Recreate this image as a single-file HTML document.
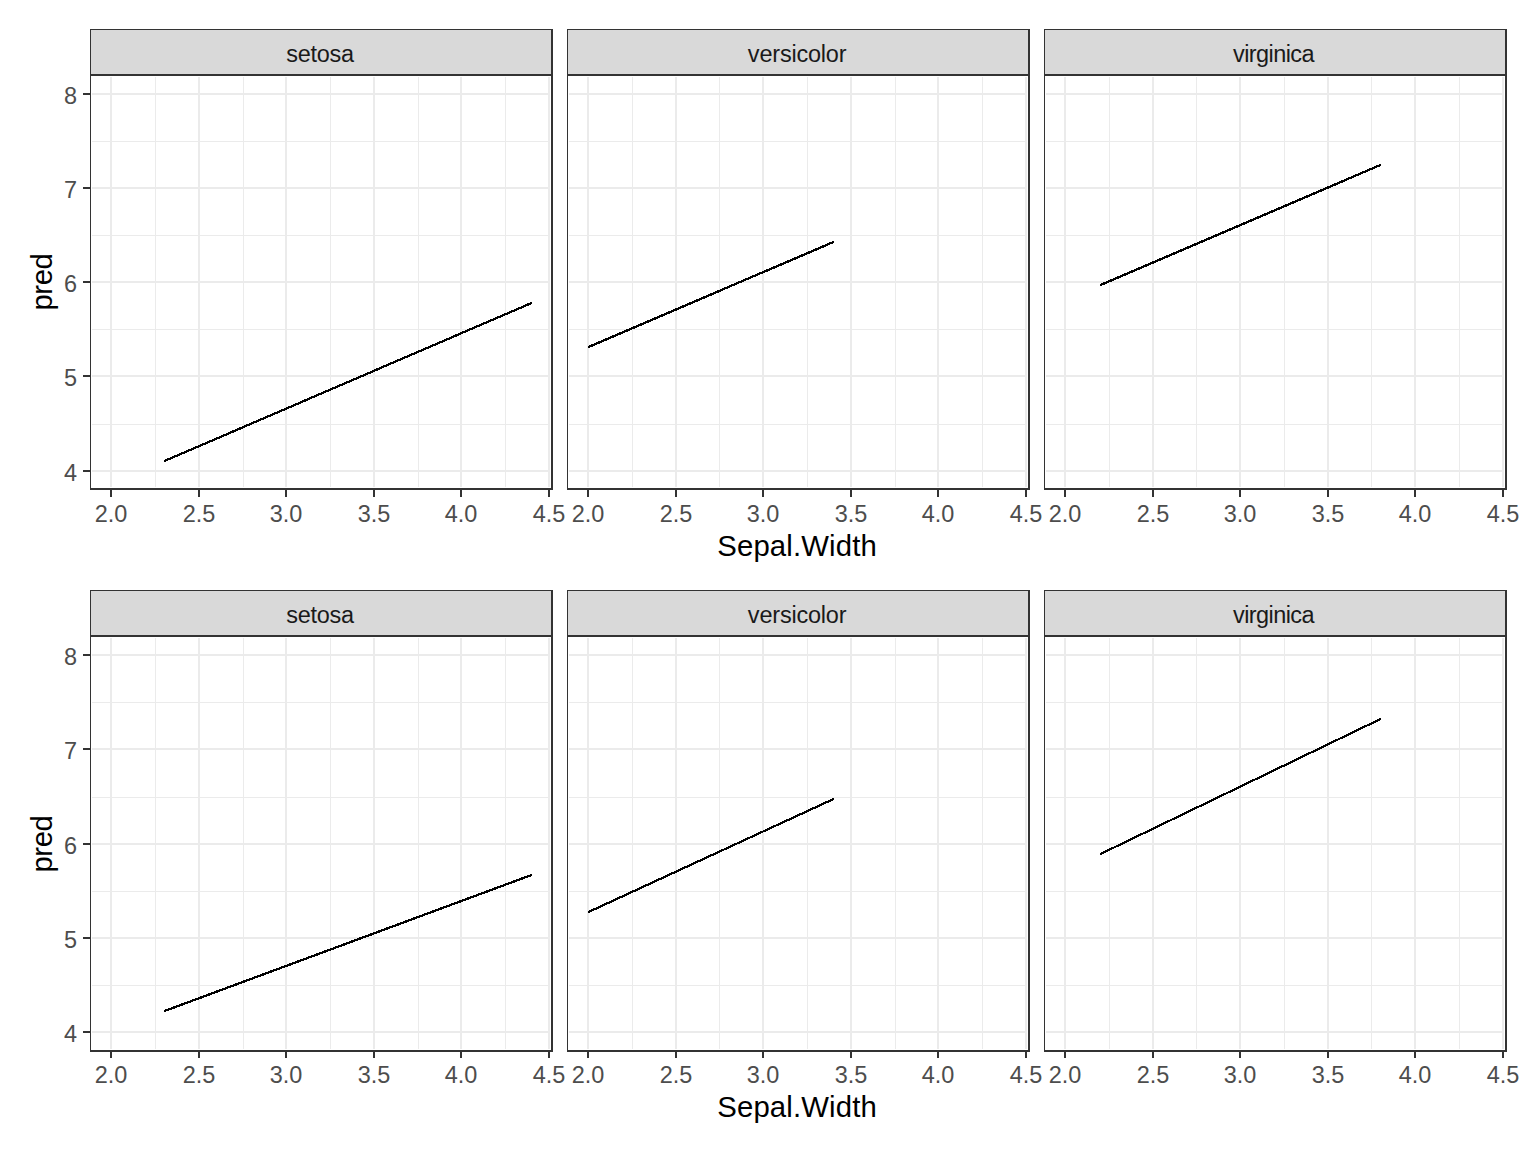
<!DOCTYPE html>
<html><head><meta charset="utf-8"><title>pred vs Sepal.Width</title>
<style>
html,body{margin:0;padding:0;background:#fff;}
body{width:1536px;height:1152px;overflow:hidden;}
svg{display:block;font-family:"Liberation Sans",sans-serif;}
</style></head><body>
<svg width="1536" height="1152" viewBox="0 0 1536 1152">
<rect x="0" y="0" width="1536" height="1152" fill="#fff"/>
<g shape-rendering="crispEdges">
<rect x="90" y="29" width="463" height="47" fill="#D9D9D9"/>
<rect x="92" y="31" width="458" height="42" fill="#D9D9D9"/>
<rect x="155" y="77" width="1" height="410" fill="#EBEBEB"/>
<rect x="243" y="77" width="1" height="410" fill="#EBEBEB"/>
<rect x="330" y="77" width="1" height="410" fill="#EBEBEB"/>
<rect x="418" y="77" width="1" height="410" fill="#EBEBEB"/>
<rect x="505" y="77" width="1" height="410" fill="#EBEBEB"/>
<rect x="92" y="141" width="458" height="1" fill="#EBEBEB"/>
<rect x="92" y="235" width="458" height="1" fill="#EBEBEB"/>
<rect x="92" y="329" width="458" height="1" fill="#EBEBEB"/>
<rect x="92" y="424" width="458" height="1" fill="#EBEBEB"/>
<rect x="110" y="77" width="2" height="410" fill="#EBEBEB"/>
<rect x="198" y="77" width="2" height="410" fill="#EBEBEB"/>
<rect x="285" y="77" width="2" height="410" fill="#EBEBEB"/>
<rect x="373" y="77" width="2" height="410" fill="#EBEBEB"/>
<rect x="460" y="77" width="2" height="410" fill="#EBEBEB"/>
<rect x="548" y="77" width="2" height="410" fill="#EBEBEB"/>
<rect x="92" y="93" width="458" height="2" fill="#EBEBEB"/>
<rect x="92" y="187" width="458" height="2" fill="#EBEBEB"/>
<rect x="92" y="281" width="458" height="2" fill="#EBEBEB"/>
<rect x="92" y="375" width="458" height="2" fill="#EBEBEB"/>
<rect x="92" y="470" width="458" height="2" fill="#EBEBEB"/>
<rect x="90" y="29" width="463" height="1" fill="#333333"/>
<rect x="90" y="29" width="1" height="461" fill="#333333"/>
<rect x="551" y="29" width="2" height="461" fill="#333333"/>
<rect x="90" y="74" width="463" height="2" fill="#333333"/>
<rect x="90" y="488" width="463" height="2" fill="#333333"/>
<rect x="110" y="490" width="2" height="7" fill="#333333"/>
<rect x="198" y="490" width="2" height="7" fill="#333333"/>
<rect x="285" y="490" width="2" height="7" fill="#333333"/>
<rect x="373" y="490" width="2" height="7" fill="#333333"/>
<rect x="460" y="490" width="2" height="7" fill="#333333"/>
<rect x="548" y="490" width="2" height="7" fill="#333333"/>
<path fill="#000" shape-rendering="crispEdges" d="M164 459.990L532 301.560L532 304.010L164 462.440Z"/>
<text x="320.1" y="62" font-size="23.47" fill="#1A1A1A" text-anchor="middle" textLength="67.86" lengthAdjust="spacing">setosa</text>
<text x="111" y="522" font-size="23.47" fill="#4D4D4D" text-anchor="middle">2.0</text>
<text x="199" y="522" font-size="23.47" fill="#4D4D4D" text-anchor="middle">2.5</text>
<text x="286" y="522" font-size="23.47" fill="#4D4D4D" text-anchor="middle">3.0</text>
<text x="374" y="522" font-size="23.47" fill="#4D4D4D" text-anchor="middle">3.5</text>
<text x="461" y="522" font-size="23.47" fill="#4D4D4D" text-anchor="middle">4.0</text>
<text x="549" y="522" font-size="23.47" fill="#4D4D4D" text-anchor="middle">4.5</text>
<rect x="567" y="29" width="463" height="47" fill="#D9D9D9"/>
<rect x="569" y="31" width="458" height="42" fill="#D9D9D9"/>
<rect x="632" y="77" width="1" height="410" fill="#EBEBEB"/>
<rect x="719" y="77" width="1" height="410" fill="#EBEBEB"/>
<rect x="807" y="77" width="1" height="410" fill="#EBEBEB"/>
<rect x="895" y="77" width="1" height="410" fill="#EBEBEB"/>
<rect x="982" y="77" width="1" height="410" fill="#EBEBEB"/>
<rect x="569" y="141" width="458" height="1" fill="#EBEBEB"/>
<rect x="569" y="235" width="458" height="1" fill="#EBEBEB"/>
<rect x="569" y="329" width="458" height="1" fill="#EBEBEB"/>
<rect x="569" y="424" width="458" height="1" fill="#EBEBEB"/>
<rect x="587" y="77" width="2" height="410" fill="#EBEBEB"/>
<rect x="675" y="77" width="2" height="410" fill="#EBEBEB"/>
<rect x="762" y="77" width="2" height="410" fill="#EBEBEB"/>
<rect x="850" y="77" width="2" height="410" fill="#EBEBEB"/>
<rect x="937" y="77" width="2" height="410" fill="#EBEBEB"/>
<rect x="1025" y="77" width="2" height="410" fill="#EBEBEB"/>
<rect x="569" y="93" width="458" height="2" fill="#EBEBEB"/>
<rect x="569" y="187" width="458" height="2" fill="#EBEBEB"/>
<rect x="569" y="281" width="458" height="2" fill="#EBEBEB"/>
<rect x="569" y="375" width="458" height="2" fill="#EBEBEB"/>
<rect x="569" y="470" width="458" height="2" fill="#EBEBEB"/>
<rect x="567" y="29" width="463" height="1" fill="#333333"/>
<rect x="567" y="29" width="1" height="461" fill="#333333"/>
<rect x="1028" y="29" width="2" height="461" fill="#333333"/>
<rect x="567" y="74" width="463" height="2" fill="#333333"/>
<rect x="567" y="488" width="463" height="2" fill="#333333"/>
<rect x="587" y="490" width="2" height="7" fill="#333333"/>
<rect x="675" y="490" width="2" height="7" fill="#333333"/>
<rect x="762" y="490" width="2" height="7" fill="#333333"/>
<rect x="850" y="490" width="2" height="7" fill="#333333"/>
<rect x="937" y="490" width="2" height="7" fill="#333333"/>
<rect x="1025" y="490" width="2" height="7" fill="#333333"/>
<path fill="#000" shape-rendering="crispEdges" d="M588 345.989L834 240.561L834 243.011L588 348.439Z"/>
<text x="797.2" y="62" font-size="23.47" fill="#1A1A1A" text-anchor="middle" textLength="98.7" lengthAdjust="spacing">versicolor</text>
<text x="588" y="522" font-size="23.47" fill="#4D4D4D" text-anchor="middle">2.0</text>
<text x="676" y="522" font-size="23.47" fill="#4D4D4D" text-anchor="middle">2.5</text>
<text x="763" y="522" font-size="23.47" fill="#4D4D4D" text-anchor="middle">3.0</text>
<text x="851" y="522" font-size="23.47" fill="#4D4D4D" text-anchor="middle">3.5</text>
<text x="938" y="522" font-size="23.47" fill="#4D4D4D" text-anchor="middle">4.0</text>
<text x="1026" y="522" font-size="23.47" fill="#4D4D4D" text-anchor="middle">4.5</text>
<rect x="1044" y="29" width="463" height="47" fill="#D9D9D9"/>
<rect x="1046" y="31" width="458" height="42" fill="#D9D9D9"/>
<rect x="1109" y="77" width="1" height="410" fill="#EBEBEB"/>
<rect x="1196" y="77" width="1" height="410" fill="#EBEBEB"/>
<rect x="1284" y="77" width="1" height="410" fill="#EBEBEB"/>
<rect x="1371" y="77" width="1" height="410" fill="#EBEBEB"/>
<rect x="1459" y="77" width="1" height="410" fill="#EBEBEB"/>
<rect x="1046" y="141" width="458" height="1" fill="#EBEBEB"/>
<rect x="1046" y="235" width="458" height="1" fill="#EBEBEB"/>
<rect x="1046" y="329" width="458" height="1" fill="#EBEBEB"/>
<rect x="1046" y="424" width="458" height="1" fill="#EBEBEB"/>
<rect x="1064" y="77" width="2" height="410" fill="#EBEBEB"/>
<rect x="1152" y="77" width="2" height="410" fill="#EBEBEB"/>
<rect x="1239" y="77" width="2" height="410" fill="#EBEBEB"/>
<rect x="1327" y="77" width="2" height="410" fill="#EBEBEB"/>
<rect x="1414" y="77" width="2" height="410" fill="#EBEBEB"/>
<rect x="1502" y="77" width="2" height="410" fill="#EBEBEB"/>
<rect x="1046" y="93" width="458" height="2" fill="#EBEBEB"/>
<rect x="1046" y="187" width="458" height="2" fill="#EBEBEB"/>
<rect x="1046" y="281" width="458" height="2" fill="#EBEBEB"/>
<rect x="1046" y="375" width="458" height="2" fill="#EBEBEB"/>
<rect x="1046" y="470" width="458" height="2" fill="#EBEBEB"/>
<rect x="1044" y="29" width="463" height="1" fill="#333333"/>
<rect x="1044" y="29" width="1" height="461" fill="#333333"/>
<rect x="1505" y="29" width="2" height="461" fill="#333333"/>
<rect x="1044" y="74" width="463" height="2" fill="#333333"/>
<rect x="1044" y="488" width="463" height="2" fill="#333333"/>
<rect x="1064" y="490" width="2" height="7" fill="#333333"/>
<rect x="1152" y="490" width="2" height="7" fill="#333333"/>
<rect x="1239" y="490" width="2" height="7" fill="#333333"/>
<rect x="1327" y="490" width="2" height="7" fill="#333333"/>
<rect x="1414" y="490" width="2" height="7" fill="#333333"/>
<rect x="1502" y="490" width="2" height="7" fill="#333333"/>
<path fill="#000" shape-rendering="crispEdges" d="M1100 283.989L1381 163.561L1381 166.011L1100 286.439Z"/>
<text x="1273.75" y="62" font-size="23.47" fill="#1A1A1A" text-anchor="middle" textLength="81.5" lengthAdjust="spacing">virginica</text>
<text x="1065" y="522" font-size="23.47" fill="#4D4D4D" text-anchor="middle">2.0</text>
<text x="1153" y="522" font-size="23.47" fill="#4D4D4D" text-anchor="middle">2.5</text>
<text x="1240" y="522" font-size="23.47" fill="#4D4D4D" text-anchor="middle">3.0</text>
<text x="1328" y="522" font-size="23.47" fill="#4D4D4D" text-anchor="middle">3.5</text>
<text x="1415" y="522" font-size="23.47" fill="#4D4D4D" text-anchor="middle">4.0</text>
<text x="1503" y="522" font-size="23.47" fill="#4D4D4D" text-anchor="middle">4.5</text>
<rect x="83" y="93" width="7" height="2" fill="#333333"/>
<text x="77" y="104" font-size="23.47" fill="#4D4D4D" text-anchor="end">8</text>
<rect x="83" y="187" width="7" height="2" fill="#333333"/>
<text x="77" y="198" font-size="23.47" fill="#4D4D4D" text-anchor="end">7</text>
<rect x="83" y="281" width="7" height="2" fill="#333333"/>
<text x="77" y="292" font-size="23.47" fill="#4D4D4D" text-anchor="end">6</text>
<rect x="83" y="375" width="7" height="2" fill="#333333"/>
<text x="77" y="386" font-size="23.47" fill="#4D4D4D" text-anchor="end">5</text>
<rect x="83" y="470" width="7" height="2" fill="#333333"/>
<text x="77" y="481" font-size="23.47" fill="#4D4D4D" text-anchor="end">4</text>
<text x="797.0" y="556" font-size="29.33" fill="#000" text-anchor="middle" textLength="159.5" lengthAdjust="spacing">Sepal.Width</text>
<text transform="translate(52,281.85) rotate(-90)" x="0" y="0" font-size="29.33" fill="#000" text-anchor="middle" textLength="57.2" lengthAdjust="spacing">pred</text>
<rect x="90" y="590" width="463" height="47" fill="#D9D9D9"/>
<rect x="92" y="592" width="458" height="42" fill="#D9D9D9"/>
<rect x="155" y="638" width="1" height="411" fill="#EBEBEB"/>
<rect x="243" y="638" width="1" height="411" fill="#EBEBEB"/>
<rect x="330" y="638" width="1" height="411" fill="#EBEBEB"/>
<rect x="418" y="638" width="1" height="411" fill="#EBEBEB"/>
<rect x="505" y="638" width="1" height="411" fill="#EBEBEB"/>
<rect x="92" y="702" width="458" height="1" fill="#EBEBEB"/>
<rect x="92" y="797" width="458" height="1" fill="#EBEBEB"/>
<rect x="92" y="891" width="458" height="1" fill="#EBEBEB"/>
<rect x="92" y="985" width="458" height="1" fill="#EBEBEB"/>
<rect x="110" y="638" width="2" height="411" fill="#EBEBEB"/>
<rect x="198" y="638" width="2" height="411" fill="#EBEBEB"/>
<rect x="285" y="638" width="2" height="411" fill="#EBEBEB"/>
<rect x="373" y="638" width="2" height="411" fill="#EBEBEB"/>
<rect x="460" y="638" width="2" height="411" fill="#EBEBEB"/>
<rect x="548" y="638" width="2" height="411" fill="#EBEBEB"/>
<rect x="92" y="654" width="458" height="2" fill="#EBEBEB"/>
<rect x="92" y="748" width="458" height="2" fill="#EBEBEB"/>
<rect x="92" y="843" width="458" height="2" fill="#EBEBEB"/>
<rect x="92" y="937" width="458" height="2" fill="#EBEBEB"/>
<rect x="92" y="1031" width="458" height="2" fill="#EBEBEB"/>
<rect x="90" y="590" width="463" height="1" fill="#333333"/>
<rect x="90" y="590" width="1" height="462" fill="#333333"/>
<rect x="551" y="590" width="2" height="462" fill="#333333"/>
<rect x="90" y="635" width="463" height="2" fill="#333333"/>
<rect x="90" y="1050" width="463" height="2" fill="#333333"/>
<rect x="110" y="1051" width="2" height="7" fill="#333333"/>
<rect x="198" y="1051" width="2" height="7" fill="#333333"/>
<rect x="285" y="1051" width="2" height="7" fill="#333333"/>
<rect x="373" y="1051" width="2" height="7" fill="#333333"/>
<rect x="460" y="1051" width="2" height="7" fill="#333333"/>
<rect x="548" y="1051" width="2" height="7" fill="#333333"/>
<path fill="#000" shape-rendering="crispEdges" d="M164 1009.960L532 873.590L532 876.040L164 1012.410Z"/>
<text x="320.1" y="623" font-size="23.47" fill="#1A1A1A" text-anchor="middle" textLength="67.86" lengthAdjust="spacing">setosa</text>
<text x="111" y="1083" font-size="23.47" fill="#4D4D4D" text-anchor="middle">2.0</text>
<text x="199" y="1083" font-size="23.47" fill="#4D4D4D" text-anchor="middle">2.5</text>
<text x="286" y="1083" font-size="23.47" fill="#4D4D4D" text-anchor="middle">3.0</text>
<text x="374" y="1083" font-size="23.47" fill="#4D4D4D" text-anchor="middle">3.5</text>
<text x="461" y="1083" font-size="23.47" fill="#4D4D4D" text-anchor="middle">4.0</text>
<text x="549" y="1083" font-size="23.47" fill="#4D4D4D" text-anchor="middle">4.5</text>
<rect x="567" y="590" width="463" height="47" fill="#D9D9D9"/>
<rect x="569" y="592" width="458" height="42" fill="#D9D9D9"/>
<rect x="632" y="638" width="1" height="411" fill="#EBEBEB"/>
<rect x="719" y="638" width="1" height="411" fill="#EBEBEB"/>
<rect x="807" y="638" width="1" height="411" fill="#EBEBEB"/>
<rect x="895" y="638" width="1" height="411" fill="#EBEBEB"/>
<rect x="982" y="638" width="1" height="411" fill="#EBEBEB"/>
<rect x="569" y="702" width="458" height="1" fill="#EBEBEB"/>
<rect x="569" y="797" width="458" height="1" fill="#EBEBEB"/>
<rect x="569" y="891" width="458" height="1" fill="#EBEBEB"/>
<rect x="569" y="985" width="458" height="1" fill="#EBEBEB"/>
<rect x="587" y="638" width="2" height="411" fill="#EBEBEB"/>
<rect x="675" y="638" width="2" height="411" fill="#EBEBEB"/>
<rect x="762" y="638" width="2" height="411" fill="#EBEBEB"/>
<rect x="850" y="638" width="2" height="411" fill="#EBEBEB"/>
<rect x="937" y="638" width="2" height="411" fill="#EBEBEB"/>
<rect x="1025" y="638" width="2" height="411" fill="#EBEBEB"/>
<rect x="569" y="654" width="458" height="2" fill="#EBEBEB"/>
<rect x="569" y="748" width="458" height="2" fill="#EBEBEB"/>
<rect x="569" y="843" width="458" height="2" fill="#EBEBEB"/>
<rect x="569" y="937" width="458" height="2" fill="#EBEBEB"/>
<rect x="569" y="1031" width="458" height="2" fill="#EBEBEB"/>
<rect x="567" y="590" width="463" height="1" fill="#333333"/>
<rect x="567" y="590" width="1" height="462" fill="#333333"/>
<rect x="1028" y="590" width="2" height="462" fill="#333333"/>
<rect x="567" y="635" width="463" height="2" fill="#333333"/>
<rect x="567" y="1050" width="463" height="2" fill="#333333"/>
<rect x="587" y="1051" width="2" height="7" fill="#333333"/>
<rect x="675" y="1051" width="2" height="7" fill="#333333"/>
<rect x="762" y="1051" width="2" height="7" fill="#333333"/>
<rect x="850" y="1051" width="2" height="7" fill="#333333"/>
<rect x="937" y="1051" width="2" height="7" fill="#333333"/>
<rect x="1025" y="1051" width="2" height="7" fill="#333333"/>
<path fill="#000" shape-rendering="crispEdges" d="M588 911.006L834 797.544L834 799.994L588 913.456Z"/>
<text x="797.2" y="623" font-size="23.47" fill="#1A1A1A" text-anchor="middle" textLength="98.7" lengthAdjust="spacing">versicolor</text>
<text x="588" y="1083" font-size="23.47" fill="#4D4D4D" text-anchor="middle">2.0</text>
<text x="676" y="1083" font-size="23.47" fill="#4D4D4D" text-anchor="middle">2.5</text>
<text x="763" y="1083" font-size="23.47" fill="#4D4D4D" text-anchor="middle">3.0</text>
<text x="851" y="1083" font-size="23.47" fill="#4D4D4D" text-anchor="middle">3.5</text>
<text x="938" y="1083" font-size="23.47" fill="#4D4D4D" text-anchor="middle">4.0</text>
<text x="1026" y="1083" font-size="23.47" fill="#4D4D4D" text-anchor="middle">4.5</text>
<rect x="1044" y="590" width="463" height="47" fill="#D9D9D9"/>
<rect x="1046" y="592" width="458" height="42" fill="#D9D9D9"/>
<rect x="1109" y="638" width="1" height="411" fill="#EBEBEB"/>
<rect x="1196" y="638" width="1" height="411" fill="#EBEBEB"/>
<rect x="1284" y="638" width="1" height="411" fill="#EBEBEB"/>
<rect x="1371" y="638" width="1" height="411" fill="#EBEBEB"/>
<rect x="1459" y="638" width="1" height="411" fill="#EBEBEB"/>
<rect x="1046" y="702" width="458" height="1" fill="#EBEBEB"/>
<rect x="1046" y="797" width="458" height="1" fill="#EBEBEB"/>
<rect x="1046" y="891" width="458" height="1" fill="#EBEBEB"/>
<rect x="1046" y="985" width="458" height="1" fill="#EBEBEB"/>
<rect x="1064" y="638" width="2" height="411" fill="#EBEBEB"/>
<rect x="1152" y="638" width="2" height="411" fill="#EBEBEB"/>
<rect x="1239" y="638" width="2" height="411" fill="#EBEBEB"/>
<rect x="1327" y="638" width="2" height="411" fill="#EBEBEB"/>
<rect x="1414" y="638" width="2" height="411" fill="#EBEBEB"/>
<rect x="1502" y="638" width="2" height="411" fill="#EBEBEB"/>
<rect x="1046" y="654" width="458" height="2" fill="#EBEBEB"/>
<rect x="1046" y="748" width="458" height="2" fill="#EBEBEB"/>
<rect x="1046" y="843" width="458" height="2" fill="#EBEBEB"/>
<rect x="1046" y="937" width="458" height="2" fill="#EBEBEB"/>
<rect x="1046" y="1031" width="458" height="2" fill="#EBEBEB"/>
<rect x="1044" y="590" width="463" height="1" fill="#333333"/>
<rect x="1044" y="590" width="1" height="462" fill="#333333"/>
<rect x="1505" y="590" width="2" height="462" fill="#333333"/>
<rect x="1044" y="635" width="463" height="2" fill="#333333"/>
<rect x="1044" y="1050" width="463" height="2" fill="#333333"/>
<rect x="1064" y="1051" width="2" height="7" fill="#333333"/>
<rect x="1152" y="1051" width="2" height="7" fill="#333333"/>
<rect x="1239" y="1051" width="2" height="7" fill="#333333"/>
<rect x="1327" y="1051" width="2" height="7" fill="#333333"/>
<rect x="1414" y="1051" width="2" height="7" fill="#333333"/>
<rect x="1502" y="1051" width="2" height="7" fill="#333333"/>
<path fill="#000" shape-rendering="crispEdges" d="M1100 853.016L1381 717.534L1381 719.984L1100 855.466Z"/>
<text x="1273.75" y="623" font-size="23.47" fill="#1A1A1A" text-anchor="middle" textLength="81.5" lengthAdjust="spacing">virginica</text>
<text x="1065" y="1083" font-size="23.47" fill="#4D4D4D" text-anchor="middle">2.0</text>
<text x="1153" y="1083" font-size="23.47" fill="#4D4D4D" text-anchor="middle">2.5</text>
<text x="1240" y="1083" font-size="23.47" fill="#4D4D4D" text-anchor="middle">3.0</text>
<text x="1328" y="1083" font-size="23.47" fill="#4D4D4D" text-anchor="middle">3.5</text>
<text x="1415" y="1083" font-size="23.47" fill="#4D4D4D" text-anchor="middle">4.0</text>
<text x="1503" y="1083" font-size="23.47" fill="#4D4D4D" text-anchor="middle">4.5</text>
<rect x="83" y="654" width="7" height="2" fill="#333333"/>
<text x="77" y="665" font-size="23.47" fill="#4D4D4D" text-anchor="end">8</text>
<rect x="83" y="748" width="7" height="2" fill="#333333"/>
<text x="77" y="759" font-size="23.47" fill="#4D4D4D" text-anchor="end">7</text>
<rect x="83" y="843" width="7" height="2" fill="#333333"/>
<text x="77" y="854" font-size="23.47" fill="#4D4D4D" text-anchor="end">6</text>
<rect x="83" y="937" width="7" height="2" fill="#333333"/>
<text x="77" y="948" font-size="23.47" fill="#4D4D4D" text-anchor="end">5</text>
<rect x="83" y="1031" width="7" height="2" fill="#333333"/>
<text x="77" y="1042" font-size="23.47" fill="#4D4D4D" text-anchor="end">4</text>
<text x="797.0" y="1117" font-size="29.33" fill="#000" text-anchor="middle" textLength="159.5" lengthAdjust="spacing">Sepal.Width</text>
<text transform="translate(52,843.85) rotate(-90)" x="0" y="0" font-size="29.33" fill="#000" text-anchor="middle" textLength="57.2" lengthAdjust="spacing">pred</text>
</g>
</svg>
</body></html>
